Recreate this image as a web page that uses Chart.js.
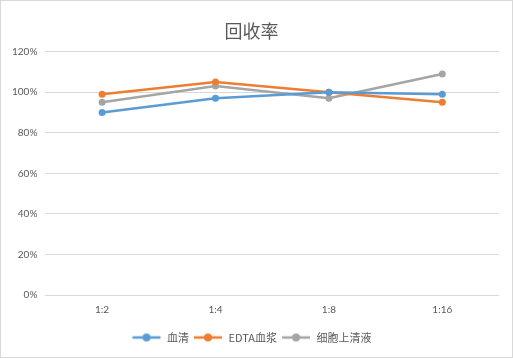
<!DOCTYPE html>
<html><head><meta charset="utf-8">
<script src="https://cdn.jsdelivr.net/npm/chart.js@4"></script>
<style>
html,body{margin:0;padding:0;background:#fff;}
#wrap{position:absolute;left:0;top:0;width:511px;height:356px;border:1px solid #D9D9D9;background:#fff;}
</style></head>
<body><div id="wrap"><canvas id="c" width="511" height="356"></canvas></div>
<script>
const categories = ['1:2','1:4','1:8','1:16'];
const serum = [0.90, 0.97, 1.00, 0.99];
const edtaPlasma = [0.99, 1.05, 1.00, 0.95];
const cellSupernatant = [0.95, 1.03, 0.97, 1.09];
const seriesNames = ['血清','EDTA血浆','细胞上清液'];
const seriesColors = ['#5B9BD5','#ED7D31','#A5A5A5'];
const yTicks = [0,0.2,0.4,0.6,0.8,1.0,1.2];

function legendIcon(color){
  const c = document.createElement('canvas');
  c.width = 30; c.height = 10;
  const x = c.getContext('2d');
  x.strokeStyle = color; x.lineWidth = 2.5;
  x.beginPath(); x.moveTo(1,5); x.lineTo(29,5); x.stroke();
  x.fillStyle = color; x.beginPath(); x.arc(15,5,4,0,Math.PI*2); x.fill();
  return c;
}
const icons = seriesColors.map(legendIcon);
const font = "'Noto Sans CJK SC','Noto Sans',sans-serif";
const tickFont = "Lato,'Noto Sans CJK SC',sans-serif";

const mk = (i, data) => ({
  label: seriesNames[i], data,
  borderColor: seriesColors[i], backgroundColor: seriesColors[i],
  borderWidth: 2.5, pointRadius: 3.5, pointHoverRadius: 3.5,
  pointBorderWidth: 0, tension: 0
});

new Chart(document.getElementById('c'), {
  type: 'line',
  data: { labels: categories, datasets: [mk(0, serum), mk(1, edtaPlasma), mk(2, cellSupernatant)] },
  options: {
    responsive: false, animation: false,
    layout: { padding: { left: 3, right: 13, top: 15, bottom: 4 } },
    plugins: {
      title: { display: true, text: '回收率', color: '#595959',
        font: { family: font, size: 18, weight: 'normal' }, padding: { top: 4, bottom: 10 } },
      legend: { position: 'bottom',
        labels: { usePointStyle: true, pointStyleWidth: 30, color: '#595959', padding: 4,
          font: { family: font, size: 11 },
          generateLabels(chart){
            return chart.data.datasets.map((d,i)=>({ text: d.label, pointStyle: icons[i],
              fillStyle: d.borderColor, strokeStyle: d.borderColor, lineWidth: 0,
              fontColor: '#595959', datasetIndex: i, hidden: false }));
          } } },
      tooltip: { enabled: false }
    },
    scales: {
      x: { offset: true, grid: { display: false, offset: true }, border: { display: false },
        afterFit(ax){ ax.height += 11; },
        ticks: { color: '#595959', font: { family: tickFont, size: 10 }, padding: 1 } },
      y: { min: 0, max: 1.2,
        afterBuildTicks(ax){ ax.ticks = yTicks.map(v=>({value:v})); },
        grid: { color: '#D9D9D9', lineWidth: 1, drawTicks: false },
        border: { display: false },
        ticks: { color: '#595959', font: { family: tickFont, size: 10 }, padding: 8,
          callback: v => Math.round(v*100) + '%' } }
    }
  }
});
</script></body></html>
